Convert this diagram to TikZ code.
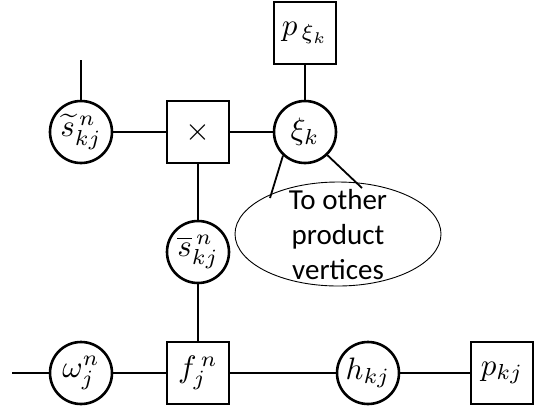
\documentclass[tikz,border=0pt]{standalone}
\usepackage{amsmath}
\usepackage{graphicx}
\usepackage{fontspec}
\usetikzlibrary{shapes.geometric}
\newfontfamily\labelfont{Carlito}
\newcommand{\bigmath}[1]{\scalebox{3.1}{$#1$}}
\begin{document}
\begin{tikzpicture}[x=1pt,y=-1pt,
  var/.style={circle,draw,line width=2.6pt,minimum size=62pt,inner sep=0pt},
  fac/.style={rectangle,draw,line width=2.6pt,minimum size=62pt,inner sep=0pt},
  edge/.style={line width=1.8pt}]
\useasboundingbox (0,0) rectangle (540,413);

% variable vertices
\node[var] (st) at (81,132) {\bigmath{\widetilde{s}^{\,n}_{kj}}};
\node[var] (xi) at (305,132) {\bigmath{\xi_{k}}};
\node[var] (sb) at (198,252) {\bigmath{\overline{s}^{\,n}_{kj}}};
\node[var] (om) at (81,373) {\bigmath{\omega^{n}_{j}}};
\node[var] (h) at (368,373) {\bigmath{h_{kj}}};

% factor vertices
\node[fac] (prod) at (198,132) {\scalebox{3.2}{$\times$}};
\node[fac] (pxi) at (305,33) {\bigmath{p_{\,\xi_{k}}}};
\node[fac] (f) at (198,373) {\bigmath{f^{\,n}_{j}}};
\node[fac] (pkj) at (502,373) {\bigmath{p_{kj}}};

% group of further product vertices
\node[ellipse,draw,line width=0.9pt,minimum width=206pt,minimum height=104pt,
  inner sep=0pt] (other) at (338,234) {};
\node[font=\labelfont\fontsize{29}{35}\selectfont,align=center]
  (othertext) at (338,235) {To other\\product\\vertices};

% free ends
\coordinate (topend) at (81,60);
\coordinate (leftend) at (12,373);
\coordinate (lnk1) at (270,198);
\coordinate (lnk2) at (362,188);

% edges
\draw[edge] (topend) -- (st);
\draw[edge] (st) -- (prod);
\draw[edge] (prod) -- (xi);
\draw[edge] (xi) -- (pxi);
\draw[edge] (prod) -- (sb);
\draw[edge] (sb) -- (f);
\draw[edge] (leftend) -- (om);
\draw[edge] (om) -- (f);
\draw[edge] (f) -- (h);
\draw[edge] (h) -- (pkj);
\draw[edge] (xi.227) -- (lnk1);
\draw[edge] (xi.-46) -- (lnk2);
\end{tikzpicture}
\end{document}
